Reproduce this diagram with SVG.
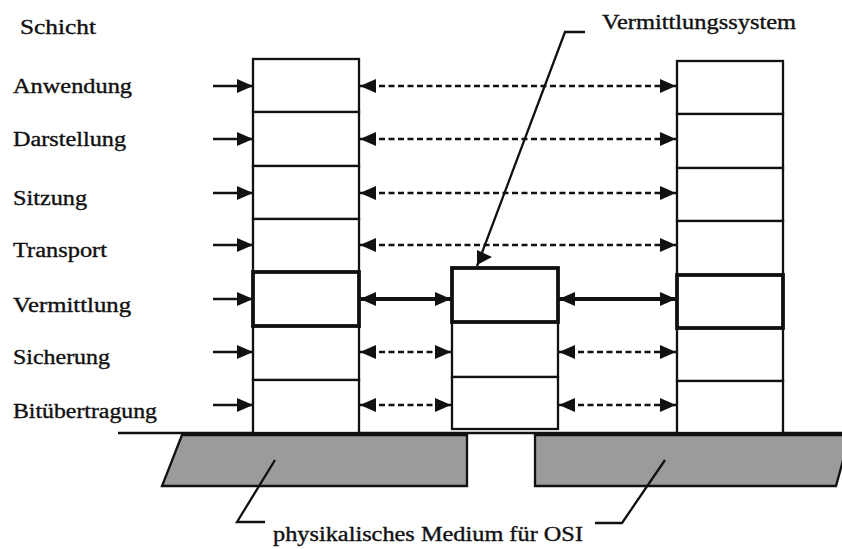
<svg xmlns="http://www.w3.org/2000/svg" width="842" height="549" viewBox="0 0 842 549">
<style>
.lbl{font-family:"Liberation Serif","Times New Roman",serif;font-size:20px;fill:#111;stroke:#111;stroke-width:0.35}
.box{fill:#fff;stroke:#111;stroke-width:2.3}
.thick{fill:#fff;stroke:#111;stroke-width:3.8}
.gray{fill:#9a9b9d;stroke:#111;stroke-width:2.3}
.ln{stroke:#111;stroke-width:2.3;fill:none}
.dash{stroke:#111;stroke-width:2.3;fill:none;stroke-dasharray:6 3.5}
.solid{stroke:#111;stroke-width:3.8;fill:none}
</style>
<defs>
<marker id="ah" markerUnits="userSpaceOnUse" viewBox="0 0 16 14" refX="16" refY="7" markerWidth="16" markerHeight="14" orient="auto-start-reverse">
<path d="M0,0 L16,7 L0,14 z" fill="#111"/>
</marker>
</defs>
<rect width="842" height="549" fill="#fff"/>

<g id="medium">
<polygon class="gray" points="182,435 467,435 467,486 162,486"/>
<polygon class="gray" points="535,435 850,435 836,486 535,486"/>
<line class="ln" x1="118" y1="433" x2="842" y2="433"/>
</g>

<g id="stack-left">
<rect class="box" x="253" y="59" width="106" height="53"/>
<rect class="box" x="253" y="112" width="106" height="54"/>
<rect class="box" x="253" y="166" width="106" height="53"/>
<rect class="box" x="253" y="219" width="106" height="53"/>
<rect class="box" x="253" y="326" width="106" height="54"/>
<rect class="box" x="253" y="380" width="106" height="53"/>
<rect class="thick" x="253" y="272" width="106" height="54"/>
</g>

<g id="stack-middle">
<rect class="box" x="452" y="322" width="106" height="55"/>
<rect class="box" x="452" y="377" width="106" height="52"/>
<rect class="thick" x="452" y="268" width="106" height="54"/>
</g>

<g id="stack-right">
<rect class="box" x="677" y="61" width="106" height="53"/>
<rect class="box" x="677" y="114" width="106" height="54"/>
<rect class="box" x="677" y="168" width="106" height="53"/>
<rect class="box" x="677" y="221" width="106" height="54"/>
<rect class="box" x="677" y="328" width="106" height="53"/>
<rect class="box" x="677" y="381" width="106" height="52"/>
<rect class="thick" x="677" y="275" width="106" height="53"/>
</g>

<g id="labels">
<text class="lbl" x="20" y="34" textLength="76" lengthAdjust="spacingAndGlyphs">Schicht</text>
<text class="lbl" x="13" y="93" textLength="119" lengthAdjust="spacingAndGlyphs">Anwendung</text>
<text class="lbl" x="13" y="146" textLength="113" lengthAdjust="spacingAndGlyphs">Darstellung</text>
<text class="lbl" x="13" y="205" textLength="74" lengthAdjust="spacingAndGlyphs">Sitzung</text>
<text class="lbl" x="13" y="257" textLength="94" lengthAdjust="spacingAndGlyphs">Transport</text>
<text class="lbl" x="13" y="312" textLength="118" lengthAdjust="spacingAndGlyphs">Vermittlung</text>
<text class="lbl" x="13" y="364" textLength="97" lengthAdjust="spacingAndGlyphs">Sicherung</text>
<text class="lbl" x="13" y="418" textLength="144" lengthAdjust="spacingAndGlyphs">Bitübertragung</text>
<text class="lbl" x="602" y="29" textLength="194" lengthAdjust="spacingAndGlyphs">Vermittlungssystem</text>
<text class="lbl" x="273" y="541" textLength="310" lengthAdjust="spacingAndGlyphs">physikalisches Medium für OSI</text>
</g>

<g id="connectors">
<line class="ln" x1="213" y1="86" x2="253" y2="86" marker-end="url(#ah)"/>
<line class="ln" x1="213" y1="139" x2="253" y2="139" marker-end="url(#ah)"/>
<line class="ln" x1="213" y1="193" x2="253" y2="193" marker-end="url(#ah)"/>
<line class="ln" x1="213" y1="245" x2="253" y2="245" marker-end="url(#ah)"/>
<line class="ln" x1="213" y1="299" x2="253" y2="299" marker-end="url(#ah)"/>
<line class="ln" x1="213" y1="352" x2="253" y2="352" marker-end="url(#ah)"/>
<line class="ln" x1="213" y1="405" x2="253" y2="405" marker-end="url(#ah)"/>

<line class="dash" x1="360" y1="86" x2="676" y2="86" marker-start="url(#ah)" marker-end="url(#ah)"/>
<line class="dash" x1="360" y1="139" x2="676" y2="139" marker-start="url(#ah)" marker-end="url(#ah)"/>
<line class="dash" x1="360" y1="193" x2="676" y2="193" marker-start="url(#ah)" marker-end="url(#ah)"/>
<line class="dash" x1="360" y1="245" x2="676" y2="245" marker-start="url(#ah)" marker-end="url(#ah)"/>

<line class="solid" x1="360" y1="299" x2="451" y2="299" marker-start="url(#ah)" marker-end="url(#ah)"/>
<line class="solid" x1="559" y1="299" x2="676" y2="299" marker-start="url(#ah)" marker-end="url(#ah)"/>

<line class="dash" x1="360" y1="352" x2="451" y2="352" marker-start="url(#ah)" marker-end="url(#ah)"/>
<line class="dash" x1="360" y1="405" x2="451" y2="405" marker-start="url(#ah)" marker-end="url(#ah)"/>
<line class="dash" x1="559" y1="352" x2="676" y2="352" marker-start="url(#ah)" marker-end="url(#ah)"/>
<line class="dash" x1="559" y1="405" x2="676" y2="405" marker-start="url(#ah)" marker-end="url(#ah)"/>

<polyline class="ln" points="585,32 565,32 477,266"/>
<polygon points="477,250 492,257 477,265" fill="#111"/>

<polyline class="ln" points="275,460 237,522 265,522"/>
<polyline class="ln" points="665,460 622,523 595,523"/>
</g>
</svg>
